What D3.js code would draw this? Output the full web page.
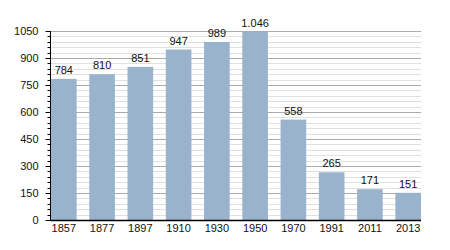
<!DOCTYPE html>
<html>
<head>
<meta charset="utf-8">
<script src="https://cdn.jsdelivr.net/npm/d3@7"></script>
<style>
body { margin: 0; background: #fff; }
text { font-family: "Liberation Sans", Arial, sans-serif; }
</style>
</head>
<body>
<svg id="chart" width="450" height="250"></svg>
<script>
// chart data
var years = ['1857', '1877', '1897', '1910', '1930', '1950', '1970', '1991', '2011', '2013'];
var population = [784, 810, 851, 947, 989, 1046, 558, 265, 171, 151];
var yTicks = [0, 150, 300, 450, 600, 750, 900, 1050];

var plotLeft = 50, plotRight = 421, plotTop = 31, plotBottom = 220;

var svg = d3.select('#chart');

var x = d3.scaleBand()
    .domain(years)
    .range([plotLeft + 1, plotRight])
    .paddingInner(0.33)
    .paddingOuter(0);

var y = d3.scaleLinear()
    .domain([0, 1050])
    .range([plotBottom, plotTop]);

var minor = d3.range(0, 1051, 30).filter(function(d) { return d % 150 !== 0; });

// minor grid
svg.append('g')
    .selectAll('line')
    .data(minor)
    .enter().append('line')
    .attr('x1', plotLeft).attr('x2', plotRight)
    .attr('y1', function(d) { return Math.round(y(d)) + 0.5; })
    .attr('y2', function(d) { return Math.round(y(d)) + 0.5; })
    .attr('stroke', '#e0e0e0');

// major grid
svg.append('g')
    .selectAll('line')
    .data(yTicks.filter(function(d) { return d > 0; }))
    .enter().append('line')
    .attr('x1', plotLeft).attr('x2', plotRight)
    .attr('y1', function(d) { return Math.round(y(d)) + 0.5; })
    .attr('y2', function(d) { return Math.round(y(d)) + 0.5; })
    .attr('stroke', '#aaaaaa');

// bars
svg.append('g')
    .selectAll('rect')
    .data(population)
    .enter().append('rect')
    .attr('x', function(d, i) { return x(years[i]); })
    .attr('width', x.bandwidth())
    .attr('y', function(d) { return y(d); })
    .attr('height', function(d) { return y(0) - y(d); })
    .attr('fill', '#99b3cd');

// value labels
svg.append('g')
    .selectAll('text')
    .data(population)
    .enter().append('text')
    .attr('x', function(d, i) { return x(years[i]) + x.bandwidth() / 2; })
    .attr('y', function(d) { return y(d) - 5; })
    .attr('text-anchor', 'middle')
    .attr('font-size', 11)
    .attr('fill', '#111')
    .text(function(d) { return d >= 1000 ? d3.format(',')(d).replace(',', '.') : d; });

// y axis
var yAxis = d3.axisLeft(y).tickValues(yTicks).tickFormat(d3.format('d')).tickSize(5).tickPadding(7);
var gy = svg.append('g')
    .attr('transform', 'translate(' + (plotLeft + 0.5) + ',0)')
    .call(yAxis);
gy.selectAll('text').attr('font-size', 11).attr('fill', '#111').style('font-family', '"Liberation Sans", Arial, sans-serif');
gy.selectAll('line').attr('stroke', '#000');
gy.select('.domain').attr('stroke', '#000').attr('d', 'M0,' + plotTop + 'V' + plotBottom);

// minor y ticks
svg.append('g')
    .selectAll('line')
    .data(minor)
    .enter().append('line')
    .attr('x1', plotLeft - 2.5).attr('x2', plotLeft + 0.5)
    .attr('y1', function(d) { return Math.round(y(d)) + 0.5; })
    .attr('y2', function(d) { return Math.round(y(d)) + 0.5; })
    .attr('stroke', '#000');

// x axis
var xAxis = d3.axisBottom(x).tickSize(0).tickPadding(4);
var gx = svg.append('g')
    .attr('transform', 'translate(0,' + (plotBottom + 0.5) + ')')
    .call(xAxis);
gx.selectAll('text').attr('font-size', 11).attr('fill', '#111').style('font-family', '"Liberation Sans", Arial, sans-serif');
gx.select('.domain').attr('stroke', '#000').attr('stroke-width', 1.5).attr('d', 'M' + plotLeft + ',0H' + plotRight);
</script>
</body>
</html>
